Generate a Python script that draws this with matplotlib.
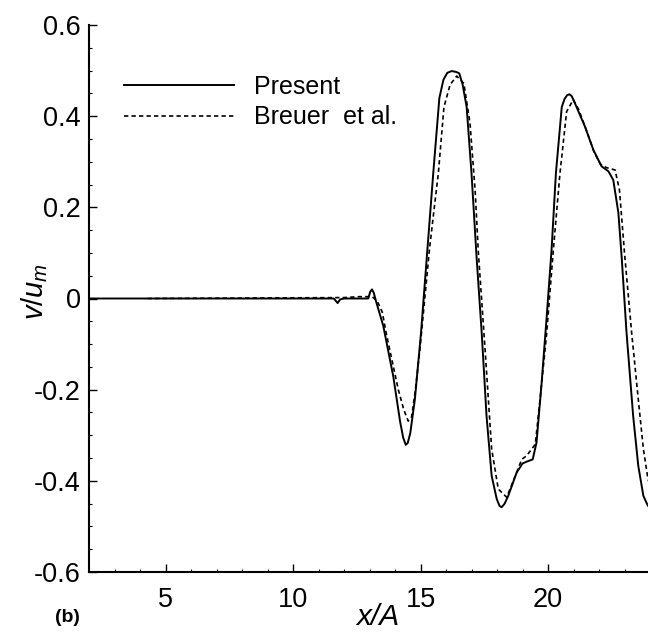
import matplotlib
matplotlib.use("Agg")
import matplotlib.pyplot as plt
from matplotlib.ticker import MultipleLocator, FixedLocator, FuncFormatter

plt.rcParams['font.family'] = ['Liberation Sans', 'DejaVu Sans']
plt.rcParams['mathtext.fontset'] = 'custom'
plt.rcParams['mathtext.rm'] = 'Liberation Sans'
plt.rcParams['mathtext.it'] = 'Liberation Sans:italic'

# Present
x_present = [2.0, 11.6, 11.75, 11.85, 12.0, 12.95, 13.03, 13.1, 13.17, 13.25, 13.54, 13.93,
             14.2, 14.32, 14.42, 14.5, 14.6, 14.78, 15.02, 15.27, 15.5, 15.74, 15.9, 16.05, 16.22,
             16.4, 16.52, 16.65, 16.81, 17.0, 17.2, 17.4, 17.59, 17.79, 17.99, 18.1, 18.18,
             18.3, 18.44, 18.77, 19.0, 19.16, 19.4, 19.55, 19.75, 19.95, 20.14, 20.31,
             20.54, 20.65, 20.75, 20.84, 20.93, 21.02, 21.12, 21.45, 21.78, 22.1, 22.37, 22.56, 22.76,
             22.89, 23.08, 23.34, 23.54, 23.74, 23.92, 24.0]
v_present = [0.0, 0.0, -0.01, -0.002, 0.0, 0.0, 0.015, 0.02, 0.012, -0.005, -0.06, -0.17,
             -0.27, -0.305, -0.321, -0.317, -0.295, -0.221, -0.075, 0.107, 0.275, 0.44, 0.48, 0.495, 0.499,
             0.497, 0.494, 0.47, 0.42, 0.275, 0.09, -0.075, -0.258, -0.389, -0.44, -0.455, -0.458,
             -0.45, -0.433, -0.382, -0.362, -0.358, -0.353, -0.316, -0.185, -0.039, 0.107, 0.275,
             0.42, 0.438, 0.446, 0.448, 0.444, 0.433, 0.42, 0.377, 0.326, 0.29, 0.279, 0.26, 0.188,
             0.09, -0.075, -0.258, -0.367, -0.433, -0.455, -0.458]

# Breuer et al.
x_breuer = [4.3, 12.0, 12.6, 13.1, 13.3, 13.5, 13.67, 13.9, 14.13, 14.35, 14.52, 14.65,
            14.8, 14.98, 15.15, 15.35, 15.5, 15.7, 15.92, 16.16, 16.42, 16.7, 16.94, 17.14,
            17.27, 17.53, 17.79, 18.05, 18.38, 18.64, 18.97, 19.16, 19.5, 19.69, 19.95,
            20.21, 20.47, 20.73, 20.99, 21.2, 21.5, 21.8, 22.05, 22.3, 22.63, 22.8, 22.9,
            23.0, 23.28, 23.54, 23.74, 23.92, 24.0]
v_breuer = [0.0, 0.002, 0.004, 0.004, -0.005, -0.03, -0.08, -0.14, -0.2, -0.245, -0.269, -0.26,
            -0.2, -0.11, -0.01, 0.107, 0.18, 0.275, 0.42, 0.469, 0.488, 0.472, 0.385, 0.239,
            0.1, -0.11, -0.33, -0.418, -0.436, -0.40, -0.353, -0.345, -0.32, -0.221, -0.075,
            0.107, 0.275, 0.41, 0.436, 0.415, 0.37, 0.322, 0.295, 0.287, 0.282, 0.239, 0.17,
            0.1, -0.075, -0.221, -0.33, -0.396, -0.41]

y_ticks = [-0.6, -0.4, -0.2, 0.0, 0.2, 0.4, 0.6]
x_ticks = [5, 10, 15, 20]

W, H = 648, 633
fig = plt.figure(figsize=(W / 100, H / 100), dpi=100)
ax = fig.add_axes([89 / W, 1 - 572 / H, (650 - 89) / W, (572 - 25) / H])

ax.plot(x_present, v_present, color='black', lw=1.4, label='Present')
ln, = ax.plot(x_breuer, v_breuer, color='black', lw=1.2, label='Breuer  et al.')
ln.set_dashes([2.6, 1.9])

ax.set_xlim(2, 24)
ax.set_ylim(-0.6, 0.6)
ax.xaxis.set_major_locator(FixedLocator(x_ticks))
ax.xaxis.set_minor_locator(MultipleLocator(1))
ax.yaxis.set_major_locator(FixedLocator(y_ticks))
ax.yaxis.set_minor_locator(MultipleLocator(0.05))

def yfmt(v, pos):
    if abs(v) < 1e-9:
        return '0'
    return ('%.1f' % v)

ax.yaxis.set_major_formatter(FuncFormatter(yfmt))

for s in ['top', 'right']:
    ax.spines[s].set_visible(False)
for s in ['left', 'bottom']:
    ax.spines[s].set_linewidth(1.5)

ax.tick_params(which='major', direction='in', length=5.5, width=1.0, labelsize=19.5,
               colors='black')
ax.tick_params(which='minor', direction='in', length=2.5, width=0.8)
ax.tick_params(axis='x', which='major', pad=11)
ax.tick_params(axis='y', which='major', pad=6)

fig.text(378 / W, 2 / H, 'x/A', fontsize=21.5, style='italic', ha='center', va='bottom')
fig.text(35 / W, 1 - 292 / H, r'$v/u_m$', fontsize=21, rotation=90, ha='center', va='center')
fig.text(67 / W, 1 - 618 / H, '(b)', fontsize=14, fontweight='bold', ha='center', va='center')

leg = ax.legend(loc='upper left', bbox_to_anchor=(124 / W, 1 - 75 / H),
                bbox_transform=fig.transFigure, frameon=False, fontsize=18,
                handlelength=4.4, handletextpad=0.8, labelspacing=0.25,
                borderpad=0, borderaxespad=0)

fig.savefig('out.png', dpi=100)
